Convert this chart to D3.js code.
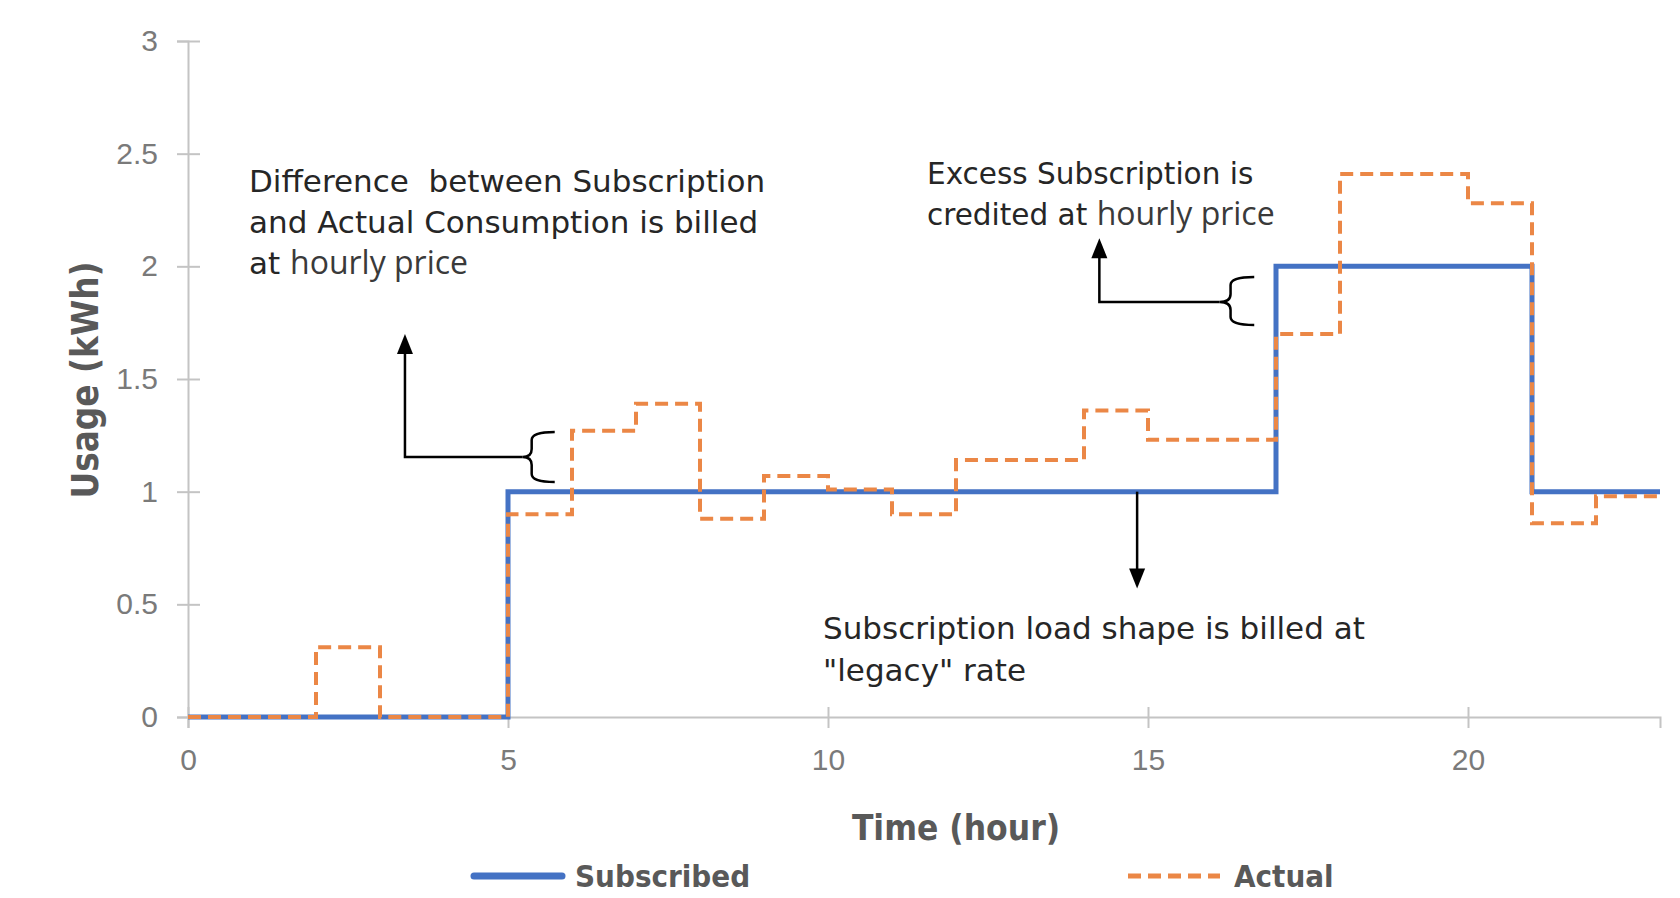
<!DOCTYPE html>
<html>
<head>
<meta charset="utf-8">
<script src="https://cdn.jsdelivr.net/npm/d3@7"></script>
<style>
  html, body { margin: 0; padding: 0; background: #ffffff; }
  svg { display: block; }
  text { white-space: pre; }
</style>
</head>
<body>
<svg id="chart" width="1680" height="898"></svg>
<script>
// ---- data ----
const hours = [0,1,2,3,4,5,6,7,8,9,10,11,12,13,14,15,16,17,18,19,20,21,22];
const subscribed = [0,0,0,0,0,1,1,1,1,1,1,1,1,1,1,1,1,2,2,2,2,1,1];
const actual = [0,0,0.31,0,0,0.90,1.27,1.39,0.88,1.07,1.01,0.90,1.14,1.14,1.36,1.23,1.23,1.70,2.41,2.41,2.28,0.86,0.98];
const xTickValues = [0,5,10,15,20];
const yTickValues = [0,0.5,1,1.5,2,2.5,3];
const yTickLabels = ["0","0.5","1","1.5","2","2.5","3"];
const seriesNames = ["Subscribed","Actual"];
const xTitle = "Time (hour)";
const yTitle = "Usage (kWh)";

const svg = d3.select("#chart");
const x = d3.scaleLinear().domain([0,23]).range([188,1660]);
const y = d3.scaleLinear().domain([0,3]).range([717,41]);

const axisColor = "#c4c4c4";
const labelColor = "#7a7a7a";
const tickFont = "'Liberation Sans', Arial, sans-serif";

// y axis
const gy = svg.append("g").attr("transform", `translate(${x(0)},0)`)
  .call(d3.axisLeft(y).tickValues(yTickValues).tickSizeOuter(0).tickSize(11)
    .tickFormat((d,i) => yTickLabels[i]));
gy.select(".domain").attr("stroke", axisColor).attr("stroke-width", 2);
gy.selectAll(".tick line").attr("stroke", axisColor).attr("stroke-width", 2).attr("x1", -11).attr("x2", 12);
gy.selectAll(".tick text").attr("x", -30).attr("fill", labelColor)
  .style("font-family", tickFont).style("font-size", "30px");

// x axis
const gx = svg.append("g").attr("transform", `translate(0,${y(0)})`)
  .call(d3.axisBottom(x).tickValues(xTickValues).tickSizeOuter(0).tickSize(11));
gx.select(".domain").attr("stroke", axisColor).attr("stroke-width", 2);
gx.selectAll(".tick line").attr("stroke", axisColor).attr("stroke-width", 2).attr("y1", -10).attr("y2", 11);
gx.selectAll(".tick text").attr("y", 32).attr("fill", labelColor)
  .style("font-family", tickFont).style("font-size", "30px");

// lines
const toPts = vals => {
  const p = vals.map((v,i) => [hours[i], v]);
  p.push([hours[hours.length-1] + 1, vals[vals.length-1]]);
  return p;
};
const line = d3.line().x(d => x(d[0])).y(d => y(d[1])).curve(d3.curveStepAfter);
svg.append("path").attr("d", line(toPts(subscribed)))
  .attr("fill", "none").attr("stroke", "#4472C4").attr("stroke-width", 5);
svg.append("path").attr("d", line(toPts(actual)))
  .attr("fill", "none").attr("stroke", "#EB8746").attr("stroke-width", 4)
  .attr("stroke-dasharray", "13,7");

// annotation helpers
const ann = svg.append("g").attr("fill", "none").attr("stroke", "#000").attr("stroke-width", 2.5);
function arrowHead(px, py, dir) {
  const w = 8, h = 20;
  const pts = dir === "up"
    ? [[px, py], [px - w, py + h], [px + w, py + h]]
    : [[px, py], [px - w, py - h], [px + w, py - h]];
  svg.append("path").attr("d", "M" + pts.map(p => p.join(",")).join("L") + "Z").attr("fill", "#000");
}
function brace(xs, xe, xt, yt, ym, yb) {
  const r = 8;
  const d = `M${xe},${yt} Q${xs},${yt} ${xs},${yt + r} L${xs},${ym - r} Q${xs},${ym} ${xt},${ym}` +
            ` Q${xs},${ym} ${xs},${ym + r} L${xs},${yb - r} Q${xs},${yb} ${xe},${yb}`;
  ann.append("path").attr("d", d);
}

// left annotation (difference)
{
  const ax = x(3.39), ay = y(1.154), tip = y(1.70);
  ann.append("path").attr("d", `M${x(5.23)},${ay} L${ax},${ay} L${ax},${tip + 14}`);
  arrowHead(ax, tip, "up");
  brace(x(5.37), x(5.73), x(5.23), y(1.265), ay, y(1.043));
}
// right annotation (excess)
{
  const ax = x(14.24), ay = y(1.842), tip = y(2.125);
  ann.append("path").attr("d", `M${x(16.12)},${ay} L${ax},${ay} L${ax},${tip + 14}`);
  arrowHead(ax, tip, "up");
  brace(x(16.29), x(16.66), x(16.12), y(1.953), ay, y(1.74));
}
// bottom annotation (legacy)
{
  const ax = x(14.83), tip = y(0.57);
  ann.append("path").attr("d", `M${ax},${y(1)} L${ax},${tip - 14}`);
  arrowHead(ax, tip, "down");
}

// annotation texts
const annFont = "'DejaVu Sans', sans-serif";
const altFont = "'Open Sans', 'Liberation Sans', sans-serif";
function textBlock(tx, size, lines) {
  lines.forEach(l => {
    const t = svg.append("text").attr("x", tx).attr("y", l.y)
      .attr("fill", "#262626").style("font-family", annFont).style("font-size", size + "px");
    l.parts.forEach(p => {
      const s = t.append("tspan").text(p.t);
      if (p.alt) s.style("font-family", altFont).style("font-size", "32px").attr("fill", "#3a3a3a");
    });
  });
}
textBlock(249, 31, [
  {y: 192, parts: [{t: "Difference  between Subscription"}]},
  {y: 233, parts: [{t: "and Actual Consumption is billed"}]},
  {y: 274, parts: [{t: "at "}, {t: "hourly price", alt: true}]}
]);
textBlock(927, 29.5, [
  {y: 184, parts: [{t: "Excess Subscription is"}]},
  {y: 225, parts: [{t: "credited at "}, {t: "hourly price", alt: true}]}
]);
textBlock(823, 31, [
  {y: 639, parts: [{t: "Subscription load shape is billed at"}]},
  {y: 681, parts: [{t: "\"legacy\" rate"}]}
]);

// axis titles
const titleFont = "'Liberation Sans Narrow', 'DejaVu Sans Condensed', 'Liberation Sans', sans-serif";
const titleColor = "#595959";
svg.append("text").attr("x", 956).attr("y", 840).attr("text-anchor", "middle")
  .attr("fill", titleColor).style("font-family", titleFont).style("font-weight", "bold").style("font-size", "35px")
  .text(xTitle);
svg.append("text").attr("transform", "translate(98,380) rotate(-90)").attr("text-anchor", "middle")
  .attr("fill", titleColor).style("font-family", titleFont).style("font-weight", "bold").style("font-size", "36.5px")
  .text(yTitle);

// legend
const lg = svg.append("g");
lg.append("line").attr("x1", 474).attr("x2", 562).attr("y1", 876).attr("y2", 876)
  .attr("stroke", "#4472C4").attr("stroke-width", 7).attr("stroke-linecap", "round");
lg.append("text").attr("x", 575).attr("y", 887).attr("fill", titleColor)
  .style("font-family", titleFont).style("font-weight", "bold").style("font-size", "31px").text(seriesNames[0]);
lg.append("line").attr("x1", 1128).attr("x2", 1220).attr("y1", 876).attr("y2", 876)
  .attr("stroke", "#EB8746").attr("stroke-width", 5).attr("stroke-dasharray", "13,7");
lg.append("text").attr("x", 1234).attr("y", 887).attr("fill", titleColor)
  .style("font-family", titleFont).style("font-weight", "bold").style("font-size", "31px").text(seriesNames[1]);
</script>
</body>
</html>
